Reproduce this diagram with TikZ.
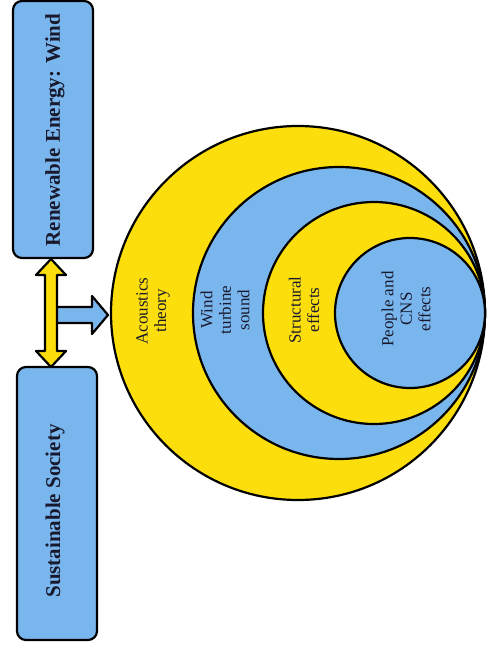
\documentclass[tikz,border=0pt]{standalone}
\usepackage{fontspec}
\setmainfont{Liberation Serif}
\definecolor{skyb}{RGB}{122,182,238}
\definecolor{sunY}{RGB}{252,222,12}
\definecolor{inkc}{RGB}{25,25,45}
\begin{document}
\begin{tikzpicture}[x=1pt,y=-1pt,line width=2.2pt,line join=round,
  boxst/.style={draw=black,fill=skyb,rounded corners=9pt,inner sep=0pt},
  ringY/.style={draw=black,fill=sunY,circle,inner sep=0pt},
  ringB/.style={draw=black,fill=skyb,circle,inner sep=0pt},
  lab/.style={rotate=90,align=center,text=inkc,font=\fontsize{17}{18.5}\selectfont},
  boxlab/.style={rotate=90,text=inkc,font=\fontsize{21}{24}\bfseries\selectfont},
  yarrow/.style={draw=black,fill=sunY},
  barrow/.style={draw=black,fill=skyb}]
\useasboundingbox (0,0) rectangle (487,662);
% boxes
\node[boxst,minimum width=80pt,minimum height=257pt] (re) at (53,129.5) {};
\node[boxst,minimum width=80pt,minimum height=273pt] (ss) at (57,503.5) {};
\node[boxlab] (reT) at (55,130) {Renewable Energy: Wind};
\node[boxlab] (ssT) at (55,511) {Sustainable Society};
% circles
\node[ringY,minimum size=374pt] (c1) at (298,313) {};
\node[ringB,minimum size=292pt] (c2) at (339,313) {};
\node[ringY,minimum size=222pt] (c3) at (374,313) {};
\node[ringB,minimum size=150pt] (c4) at (410,313) {};
% arrows
\coordinate (atip) at (108,315);
\draw[barrow] (atip) -- ++(-16,-19) -- ++(0,11) -- ++(-40,0) -- ++(0,16) -- ++(40,0) -- ++(0,11) -- cycle;
\coordinate (dtop) at (51,259);
\coordinate (dbot) at (51,367);
\draw[yarrow] (dtop) -- ++(15,16) -- ++(-9,0) -- ++(0,76) -- ++(9,0) -- (dbot)
  -- ++(-15,-16) -- ++(9,0) -- ++(0,-76) -- ++(-9,0) -- cycle;
% labels
\node[lab] (l1) at (153,311) {Acoustics\\theory};
\node[lab] (l2) at (225,310) {Wind\\turbine\\sound};
\node[lab] (l3) at (304,310) {Structural\\effects};
\node[lab] (l4) at (406,309) {People and\\CNS\\effects};
\end{tikzpicture}
\end{document}
